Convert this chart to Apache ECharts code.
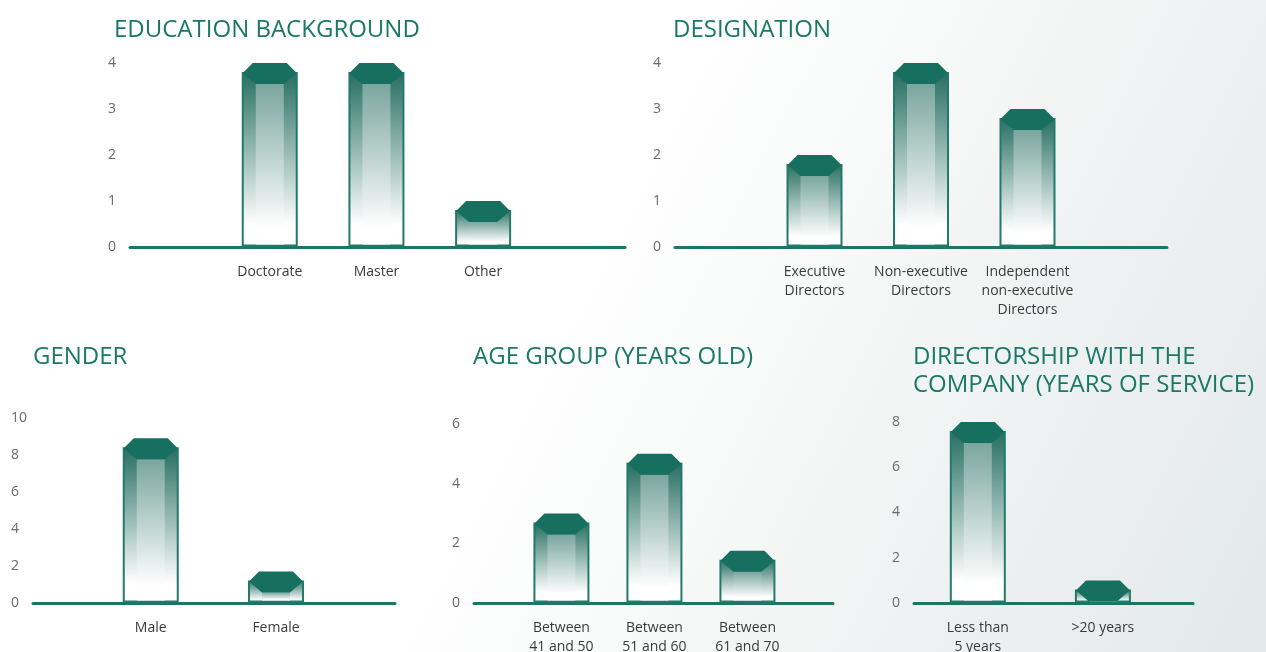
<!DOCTYPE html>
<html>
<head>
<meta charset="utf-8">
<script src="https://cdn.jsdelivr.net/npm/echarts@6/dist/echarts.min.js"></script>
<style>
	html, body { margin: 0; padding: 0; }
	#chart { width: 1266px; height: 652px; }
</style>
</head>
<body>
<div id="chart"></div>
<script>
'use strict';

// values
var eduCats = ['Doctorate', 'Master', 'Other'];
var eduVals = [4, 4, 1];

var desCats = ['Executive\nDirectors', 'Non-executive\nDirectors', 'Independent\nnon-executive\nDirectors'];
var desVals = [2, 4, 3];

var genCats = ['Male', 'Female'];
var genVals = [8.9, 1.7];

var ageCats = ['Between\n41 and 50', 'Between\n51 and 60', 'Between\n61 and 70'];
var ageVals = [3, 5, 1.75];

var dirCats = ['Less than\n5 years', '>20 years'];
var dirVals = [8, 1];

var TEAL = '#17705f';
var FONT = '"Open Sans", "Noto Sans", sans-serif';

// prism bar with a hexagonal cap
function renderBar(params, api) {
	var idx = api.value(0);
	var top = api.coord([idx, api.value(1)]);
	var base = api.coord([idx, 0]);
	var cx = top[0], ty = top[1], by = base[1] - 1.5;
	var hw = 27, iw = 14, sh = 10, capH = 21;
	var children = [];
	children.push({
		type: 'rect',
		shape: { x: cx - hw, y: ty + sh, width: hw * 2, height: Math.max(by - ty - sh, 0) },
		style: {
			fill: new echarts.graphic.LinearGradient(0, 0, 0, 1, [
				{ offset: 0, color: '#266e61' },
				{ offset: 0.88, color: '#ffffff' },
				{ offset: 1, color: '#ffffff' }
			]),
			stroke: '#237a6b',
			lineWidth: 2
		}
	});
	if (by - ty > capH) {
		children.push({
			type: 'rect',
			shape: { x: cx - iw, y: ty + capH, width: iw * 2, height: by - ty - capH - 1 },
			style: {
				fill: new echarts.graphic.LinearGradient(0, 0, 0, 1, [
					{ offset: 0, color: '#7aa69e' },
					{ offset: 0.9, color: '#ffffff' },
					{ offset: 1, color: '#ffffff' }
				])
			}
		});
	}
	var cb = Math.min(ty + capH, by);
	children.push({
		type: 'polygon',
		shape: {
			points: [
				[cx - hw, ty + sh], [cx - hw + sh, ty], [cx + hw - sh, ty], [cx + hw, ty + sh],
				[cx + iw, cb], [cx - iw, cb]
			]
		},
		style: { fill: TEAL }
	});
	return { type: 'group', children: children };
}

var grids = [], xAxes = [], yAxes = [], series = [];

function addChart(cats, vals, box, xmin, xmax, ymax, yint) {
	var i = grids.length;
	grids.push({
		left: box[0], top: box[1], right: 1266 - box[2], bottom: 652 - box[3],
		containLabel: false,
		outerBoundsMode: 'none'
	});
	xAxes.push({
		gridIndex: i,
		type: 'value',
		min: xmin,
		max: xmax,
		splitLine: { show: false },
		axisTick: { show: false },
		axisLine: { show: true, onZero: false, lineStyle: { color: '#1d7566', width: 3 } },
		axisLabel: {
			customValues: cats.map(function (c, k) { return k; }),
			formatter: function (v) { return cats[Math.round(v)]; },
			color: '#3a3a3a',
			fontFamily: FONT,
			fontSize: 14,
			lineHeight: 19,
			margin: 16
		}
	});
	yAxes.push({
		gridIndex: i,
		type: 'value',
		min: 0,
		max: ymax,
		interval: yint,
		splitLine: { show: false },
		axisLine: { show: false },
		axisTick: { show: false },
		axisLabel: { color: '#6a6a6a', fontFamily: FONT, fontSize: 14, align: 'left', margin: 22 }
	});
	series.push({
		type: 'custom',
		xAxisIndex: i,
		yAxisIndex: i,
		renderItem: renderBar,
		encode: { x: 0, y: 1 },
		data: vals.map(function (v, k) { return [k, v]; })
	});
}

addChart(eduCats, eduVals, [130, 63, 625, 247], -1.31, 3.33, 4, 1);
addChart(desCats, desVals, [675, 63, 1167, 247], -1.31, 3.31, 4, 1);
addChart(genCats, genVals, [33, 418, 395, 603], -0.94, 1.95, 10, 2);
addChart(ageCats, ageVals, [474, 424, 833, 603], -0.94, 2.92, 6, 2);
addChart(dirCats, dirVals, [914, 422, 1193, 603], -0.51, 1.72, 8, 2);

function title(text, left, top) {
	return {
		text: text,
		left: left,
		top: top,
		padding: 0,
		textStyle: { color: '#1a7866', fontFamily: FONT, fontSize: 24, fontWeight: 'normal', lineHeight: 28 }
	};
}

var chart = echarts.init(document.getElementById('chart'));
chart.setOption({
	animation: false,
	backgroundColor: new echarts.graphic.LinearGradient(0, 0, 1, 1, [
		{ offset: 0, color: '#ffffff' },
		{ offset: 0.45, color: '#ffffff' },
		{ offset: 1, color: '#e3e8e8' }
	]),
	title: [
		title('EDUCATION BACKGROUND', 114, 16),
		title('DESIGNATION', 673, 16),
		title('GENDER', 33, 343),
		title('AGE GROUP (YEARS OLD)', 473, 343),
		title('DIRECTORSHIP WITH THE\nCOMPANY (YEARS OF SERVICE)', 913, 343)
	],
	grid: grids,
	xAxis: xAxes,
	yAxis: yAxes,
	series: series
});
</script>
</body>
</html>
